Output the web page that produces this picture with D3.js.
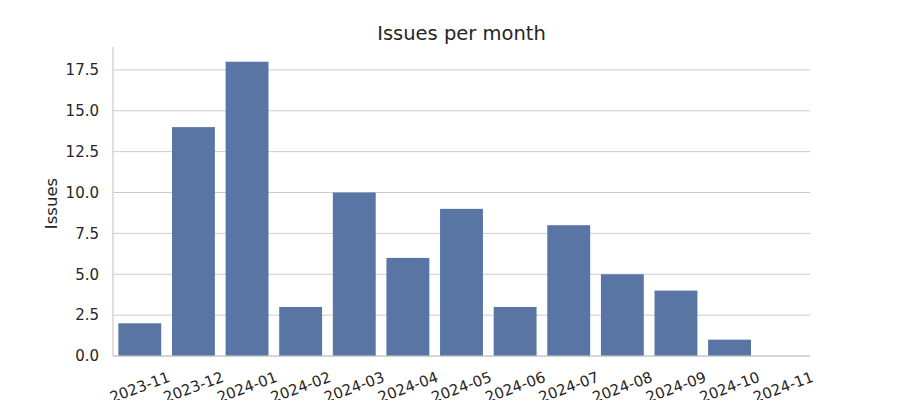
<!DOCTYPE html>
<html><head><meta charset="utf-8">
<script src="https://cdn.jsdelivr.net/npm/d3@7"></script>
<style>body{margin:0;background:#fff}svg{display:block;font-family:"DejaVu Sans",sans-serif}</style>
</head><body><div id="chart"></div>
<script>
const months = ["2023-11","2023-12","2024-01","2024-02","2024-03","2024-04","2024-05","2024-06","2024-07","2024-08","2024-09","2024-10","2024-11"];
const issues = [2,14,18,3,10,6,9,3,8,5,4,1,0];
const yTicks = [0,2.5,5,7.5,10,12.5,15,17.5];

const W=900,H=400, L=113,R=810,T=47,B=356;
const svg=d3.select("#chart").append("svg").attr("width",W).attr("height",H);
const x=d3.scaleBand().domain(months).range([L,R]).paddingInner(0.2).paddingOuter(0.1);
const y=d3.scaleLinear().domain([0,18.9]).range([B,T]);

// grid
svg.append("g").selectAll("line").data(yTicks).join("line")
 .attr("x1",L).attr("x2",R).attr("y1",d=>y(d)).attr("y2",d=>y(d))
 .attr("stroke","#cccccc").attr("stroke-width",1);

// bars
svg.append("g").selectAll("rect").data(months).join("rect")
 .attr("x",d=>x(d)).attr("width",x.bandwidth())
 .attr("y",(d,i)=>y(issues[i])).attr("height",(d,i)=>B-y(issues[i]))
 .attr("fill","#5875a4");

// spines
svg.append("line").attr("x1",L).attr("x2",L).attr("y1",T).attr("y2",B).attr("stroke","#cccccc").attr("stroke-width",1.25);
svg.append("line").attr("x1",L).attr("x2",R).attr("y1",B).attr("y2",B).attr("stroke","#cccccc").attr("stroke-width",1.25);

// y tick labels
svg.append("g").selectAll("text").data(yTicks).join("text")
 .attr("x",L-14).attr("y",d=>y(d)).attr("dy","0.35em").attr("text-anchor","end")
 .attr("font-size",15).attr("fill","#262626").text(d=>d.toFixed(1));

// x tick labels
svg.append("g").selectAll("text").data(months).join("text")
 .attr("transform",d=>`translate(${x(d)+x.bandwidth()/2},387) rotate(-20)`)
 .attr("text-anchor","middle").attr("dy","0.35em")
 .attr("font-size",15).attr("fill","#262626").text(d=>d);

// y label
svg.append("text").attr("transform",`translate(57,${(T+B)/2+2}) rotate(-90)`)
 .attr("text-anchor","middle").attr("font-size",16.5).attr("fill","#262626").text("Issues");

// title
svg.append("text").attr("x",(L+R)/2).attr("y",40).attr("text-anchor","middle")
 .attr("font-size",19.5).attr("fill","#262626").text("Issues per month");
</script></body></html>
